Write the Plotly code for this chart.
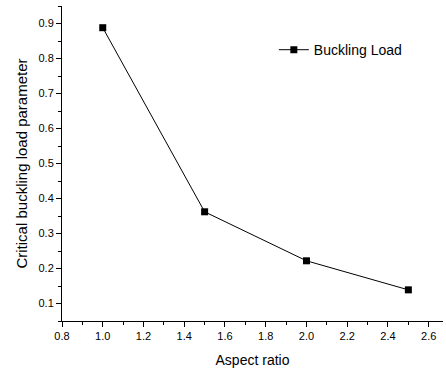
import plotly.graph_objects as go

aspect_ratio = [1.0, 1.5, 2.0, 2.5]
buckling_load = [0.888, 0.362, 0.222, 0.139]

FONT = "Liberation Sans, Arial"

fig = go.Figure()
fig.add_trace(go.Scatter(
    x=aspect_ratio, y=buckling_load, mode="lines+markers", name="Buckling Load",
    line=dict(color="black", width=1),
    marker=dict(symbol="square", size=7, color="black"),
))

axis_common = dict(
    showline=True, linecolor="black", linewidth=1, mirror=False,
    ticks="outside", ticklen=5, tickwidth=1, tickcolor="black",
    showgrid=False, zeroline=False,
    tickfont=dict(family=FONT, size=11, color="black"),
)
fig.update_xaxes(range=[0.8, 2.67], dtick=0.2, tick0=0.8, tickformat=".1f",
                 minor=dict(ticks="outside", ticklen=3, dtick=0.1, tickcolor="black"),
                 title=dict(text="Aspect ratio", font=dict(family=FONT, size=14, color="black"), standoff=13),
                 **axis_common)
fig.update_yaxes(range=[0.05, 0.95], dtick=0.1, tick0=0.1, tickformat=".1f",
                 minor=dict(ticks="outside", ticklen=3, dtick=0.05, tickcolor="black"),
                 title=dict(text="Critical buckling load parameter", font=dict(family=FONT, size=15, color="black"), standoff=7),
                 **axis_common)
fig.update_layout(
    width=446, height=370,
    margin=dict(l=62, r=3, t=6, b=49),
    plot_bgcolor="white", paper_bgcolor="white",
    showlegend=True,
    legend=dict(x=0.556, y=0.86, xanchor="left", yanchor="middle",
                font=dict(family=FONT, size=14, color="black"),
                bgcolor="rgba(0,0,0,0)", itemwidth=30),
)
fig.write_html("out.html")
